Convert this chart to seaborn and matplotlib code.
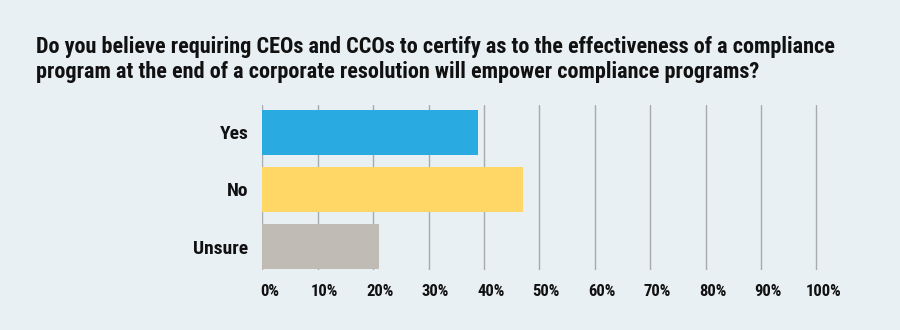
import matplotlib
matplotlib.use("Agg")
import matplotlib.pyplot as plt
import matplotlib.transforms as mtransforms
from matplotlib import font_manager
import seaborn as sns
import pandas as pd

# Survey answers (% of respondents)
answers = ["Yes", "No", "Unsure"]
shares = [39, 47, 21]
bar_colors = ["#29aae1", "#fed766", "#c0bbb5"]
x_ticks = [0, 10, 20, 30, 40, 50, 60, 70, 80, 90, 100]
x_tick_labels = [f"{v}%" for v in x_ticks]
title = ("Do you believe requiring CEOs and CCOs to certify as to the effectiveness of a compliance\n"
         "program at the end of a corporate resolution will empower compliance programs?")

BG = "#e8f0f4"
GRID = "#a6abaf"

sns.set_theme(style="white")

# Prefer a narrow sans for the condensed headline look
installed = {f.name for f in font_manager.fontManager.ttflist}
family = []
for name in ["Roboto Condensed", "Liberation Sans Narrow", "DejaVu Sans Condensed", "Liberation Sans"]:
    if name in installed:
        family.append(name)
family.append("DejaVu Sans")
plt.rcParams["font.family"] = family

df = pd.DataFrame({"answer": answers, "share": shares})

fig = plt.figure(figsize=(9, 3.3), dpi=100, facecolor=BG)
W, H = 900, 330
left_px, right_px, top_px, bottom_px = 262.3, 818, 105, 270
ax = fig.add_axes([left_px / W, 1 - bottom_px / H,
                   (right_px - left_px) / W, (bottom_px - top_px) / H])
ax.set_facecolor(BG)

sns.barplot(data=df, x="share", y="answer", hue="answer", palette=bar_colors,
            order=answers, hue_order=answers, width=0.79, legend=False,
            saturation=1, linewidth=0, ax=ax, zorder=3)

ax.set_xlim(0, (right_px - left_px) / 5.54)
ax.set_ylim(2.412, -0.482)

for v in x_ticks:
    ax.axvline(v, color=GRID, lw=1.0, zorder=1)

for s in ax.spines.values():
    s.set_visible(False)

ax.set_xticks(x_ticks)
ax.set_xticklabels(x_tick_labels, fontsize=12, fontweight="bold", color="#111111")
ax.tick_params(axis="x", length=0, pad=10)
shift = mtransforms.ScaledTranslation(7 / 100, 0, fig.dpi_scale_trans)
for lbl in ax.get_xticklabels():
    lbl.set_transform(lbl.get_transform() + shift)

ax.set_yticks(range(len(answers)))
ax.set_yticklabels(answers, fontsize=14, fontweight="bold", color="#111111")
ax.tick_params(axis="y", length=0, pad=10)

ax.set_xlabel("")
ax.set_ylabel("")

fig.text(36 / W, 1 - 36 / H, title, ha="left", va="top", fontsize=16,
         fontweight="bold", color="#111111", linespacing=1.15)

fig.savefig("out.png", dpi=100, facecolor=BG)
